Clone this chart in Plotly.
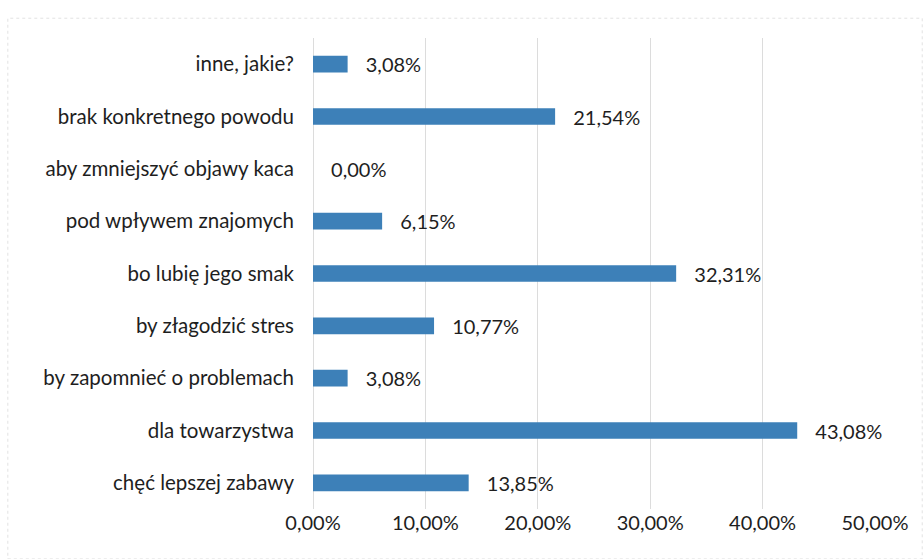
import plotly.graph_objects as go

categories = ["chęć lepszej zabawy", "dla towarzystwa", "by zapomnieć o problemach",
              "by złagodzić stres", "bo lubię jego smak", "pod wpływem znajomych",
              "aby zmniejszyć objawy kaca", "brak konkretnego powodu", "inne, jakie?"]
values = [13.85, 43.08, 3.08, 10.77, 32.31, 6.15, 0.00, 21.54, 3.08]
tick_vals = [0, 10, 20, 30, 40, 50]
tick_labels = ["0,00%", "10,00%", "20,00%", "30,00%", "40,00%", "50,00%"]

labels = ["\u2002\u00a0" + f"{v:.2f}".replace(".", ",") + "%" for v in values]

fig = go.Figure(go.Bar(
    x=values, y=categories, orientation="h",
    marker=dict(color="#3d80b8", line=dict(width=0)),
    width=0.32,
    text=labels, textposition="outside", cliponaxis=False,
    constraintext="none",
    textfont=dict(size=20, color="#1e1e1e"),
    hoverinfo="skip",
))

fig.update_layout(
    width=923, height=559,
    margin=dict(l=313, r=48, t=38, b=50, autoexpand=False),
    paper_bgcolor="white", plot_bgcolor="white",
    font=dict(family="Lato", size=20.5, color="#1e1e1e"),
    showlegend=False,
    xaxis=dict(range=[0, 50], tickvals=tick_vals, ticktext=tick_labels,
               showgrid=True, gridcolor="#dcdcdc", gridwidth=1,
               zeroline=True, zerolinecolor="#dcdcdc", zerolinewidth=1,
               showline=False, ticks="", automargin=False,
               tickfont=dict(size=20)),
    yaxis=dict(showgrid=False, zeroline=False, showline=False,
               ticks="", ticklabelstandoff=18, automargin=False),
    shapes=[dict(type="rect", xref="paper", yref="paper",
                 x0=-0.543, x1=1.084, y0=-0.106, y1=1.042,
                 line=dict(color="#e2e2e2", width=1, dash="dot"))],
)

fig.write_html("out.html", config={"displayModeBar": False},
               post_script="document.body.style.margin='0';")
